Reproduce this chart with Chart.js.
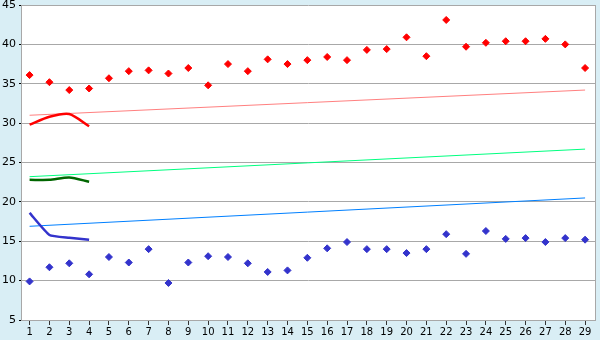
<!DOCTYPE html>
<html>
<head>
<meta charset="utf-8">
<script src="https://cdn.jsdelivr.net/npm/chart.js@4/dist/chart.umd.min.js"></script>
<style>
  html, body { margin: 0; padding: 0; background: #D9EEF5; }
  #wrap { width: 600px; height: 340px; background: #D9EEF5; }
</style>
</head>
<body>
<div id="wrap"><canvas id="c" width="600" height="340"></canvas></div>
<script>
const categories = [1,2,3,4,5,6,7,8,9,10,11,12,13,14,15,16,17,18,19,20,21,22,23,24,25,26,27,28,29];
const upperPoints = [36.1,35.2,34.2,34.4,35.7,36.6,36.7,36.3,37.0,34.8,37.5,36.6,38.1,37.5,38.0,38.4,38.0,39.3,39.4,40.9,38.5,43.1,39.7,40.2,40.4,40.4,40.7,40.0,37.0];
const lowerPoints = [9.9,11.7,12.2,10.8,13.0,12.3,14.0,9.7,12.3,13.1,13.0,12.2,11.1,11.3,12.9,14.1,14.9,14.0,14.0,13.5,14.0,15.9,13.4,16.3,15.3,15.4,14.9,15.4,15.2];
const trendX = [1, 29];
const redTrend = [31.0, 34.2];
const greenTrend = [23.2, 26.7];
const blueTrend = [16.9, 20.5];
const shortX = [1, 2, 3, 4];
const redShort = [29.8, 30.8, 31.15, 29.6];
const greenShort = [22.8, 22.8, 23.1, 22.55];
const blueShort = [18.6, 15.8, 15.45, 15.2];
const yTicks = [5, 10, 15, 20, 25, 30, 35, 40, 45];

const pts = (xs, ys) => xs.map((x, i) => ({x: x, y: ys[i]}));

const whiteArea = {
  id: 'whiteArea',
  beforeDraw(chart) {
    const a = chart.chartArea, ctx = chart.ctx;
    ctx.save();
    ctx.fillStyle = '#ffffff';
    ctx.fillRect(a.left, a.top, a.right - a.left, a.bottom - a.top);
    ctx.restore();
  }
};

new Chart(document.getElementById('c'), {
  type: 'scatter',
  plugins: [whiteArea],
  data: {
    datasets: [
      { data: pts(trendX, redTrend), showLine: true, borderColor: '#FF8080', borderWidth: 1, pointRadius: 0, order: 5 },
      { data: pts(trendX, greenTrend), showLine: true, borderColor: '#00FF80', borderWidth: 1, pointRadius: 0, order: 5 },
      { data: pts(trendX, blueTrend), showLine: true, borderColor: '#0080FF', borderWidth: 1, pointRadius: 0, order: 5 },
      { data: pts(shortX, redShort), showLine: true, borderColor: '#FF0000', borderWidth: 2.5, pointRadius: 0, tension: 0.25, order: 4 },
      { data: pts(shortX, greenShort), showLine: true, borderColor: '#006600', borderWidth: 2.5, pointRadius: 0, tension: 0.25, order: 4 },
      { data: pts(shortX, blueShort), showLine: true, borderColor: '#3333CC', borderWidth: 2.5, pointRadius: 0, tension: 0.15, order: 4 },
      { data: pts(categories, upperPoints), showLine: false, pointStyle: 'rectRot', pointRadius: 3.5, backgroundColor: '#FF0000', borderColor: '#FF0000', borderWidth: 1, order: 1 },
      { data: pts(categories, lowerPoints), showLine: false, pointStyle: 'rectRot', pointRadius: 3.5, backgroundColor: '#3333CC', borderColor: '#3333CC', borderWidth: 1, order: 1 }
    ]
  },
  options: {
    responsive: false,
    animation: false,
    events: [],
    layout: { padding: { top: 5, right: 5, left: 0, bottom: 0 } },
    plugins: { legend: { display: false }, tooltip: { enabled: false } },
    scales: {
      x: {
        type: 'linear',
        min: 0.567,
        max: 29.5,
        afterFit(s) { s.height = 20; s.paddingLeft = 0; s.paddingRight = 0; },
        afterBuildTicks(s) { s.ticks = categories.map(v => ({value: v})); },
        ticks: {
          autoSkip: false, maxRotation: 0, padding: 1,
          color: '#000', font: { family: 'DejaVu Sans', size: 10 },
          callback: (v) => String(v)
        },
        grid: { drawOnChartArea: false, drawTicks: true, tickLength: 5, color: '#333' },
        border: { color: '#A8A8A8', width: 1 }
      },
      y: {
        min: 5, max: 45,
        afterFit(s) { s.width = 21; s.paddingTop = 0; s.paddingBottom = 0; },
        afterBuildTicks(s) { s.ticks = yTicks.map(v => ({value: v})); },
        ticks: {
          padding: 3, color: '#000', font: { family: 'DejaVu Sans', size: 11 },
          callback: (v) => String(v)
        },
        grid: { color: '#A8A8A8', lineWidth: 1, tickLength: 2, tickColor: '#000' },
        border: { color: '#A8A8A8', width: 1 }
      },
      y2: {
        position: 'right', min: 5, max: 45,
        afterFit(s) { s.width = 0; s.paddingTop = 0; s.paddingBottom = 0; },
        ticks: { display: false },
        grid: { display: false, drawTicks: false },
        border: { display: true, color: '#A8A8A8', width: 1 }
      }
    }
  }
});
</script>
</body>
</html>
